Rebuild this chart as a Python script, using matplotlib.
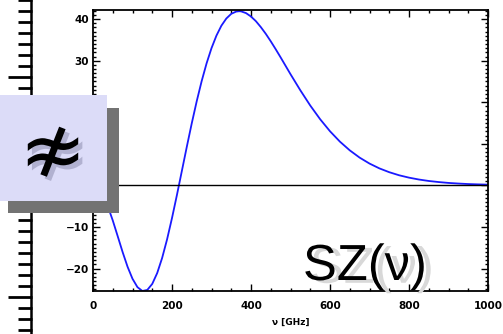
import numpy as np
import matplotlib
matplotlib.use("Agg")
import matplotlib.pyplot as plt
import matplotlib.patheffects as pe
from matplotlib.patches import Rectangle
from matplotlib.lines import Line2D

# SZ spectral distortion
freq = [0, 10, 25, 37.5, 50, 62.5, 75, 87.5, 100, 112.5, 125, 137.5, 150,
        162.5, 175, 187.5, 200, 212.5, 225, 237.5, 250, 262.5, 275, 287.5,
        300, 312.5, 325, 337.5, 350, 362.5, 370, 375, 387.5, 400, 412.5,
        425, 437.5, 450, 462.5, 475, 500, 525, 550, 575, 600, 625, 650, 675,
        700, 725, 750, 775, 800, 825, 850, 875, 900, 925, 950, 975, 1000]
sz = [0, -0.38, -2.32, -5.01, -8.42, -12.21, -16.04, -19.57, -22.46, -24.47,
      -25.40, -25.14, -23.69, -21.09, -17.46, -12.99, -7.85, -2.29, 3.50,
      9.30, 14.93, 20.22, 25.06, 29.35, 33.02, 36.04, 38.42, 40.15, 41.28,
      41.82, 41.91, 41.87, 41.45, 40.63, 39.50, 38.07, 36.46, 34.67, 32.77,
      30.80, 26.76, 22.87, 19.22, 15.93, 13.03, 10.54, 8.44, 6.69, 5.26,
      4.10, 3.18, 2.44, 1.87, 1.42, 1.07, 0.81, 0.60, 0.45, 0.33, 0.25, 0.18]
xticks = [0, 200, 400, 600, 800, 1000]
yticks = [-20, -10, 0, 10, 20, 30, 40]
# 20, 10 and 0 sit behind the box in the original
ylabels = ["\u221220", "\u221210", "", "", "", "30", "40"]

W, H = 503, 334
fig = plt.figure(figsize=(W / 100, H / 100), dpi=100)
ax = fig.add_axes([93 / W, 1 - 291 / H, (488 - 93) / W, (291 - 10) / H])

ax.plot(freq, sz, color="#1a1aff", lw=1.3)
ax.axhline(0, color="black", lw=1)
ax.set_xlim(0, 1000)
ax.set_ylim(-25.4, 42.2)
ax.set_xticks(xticks)
ax.set_yticks(yticks)
ax.set_yticklabels(ylabels)
ax.set_xticks(np.arange(0, 1001, 50), minor=True)
ax.set_yticks(np.arange(-25, 43, 1), minor=True)
ax.tick_params(which="both", direction="in", top=True, right=True, width=1)
ax.tick_params(which="major", length=5)
ax.tick_params(which="minor", length=2.5)
ax.tick_params(axis="x", pad=7)
ax.tick_params(axis="y", pad=3)
for lab in ax.get_xticklabels() + ax.get_yticklabels():
    lab.set_fontsize(7.5)
    lab.set_fontweight("bold")
for s in ax.spines.values():
    s.set_linewidth(1.3)
ax.set_xlabel("ν [GHz]", fontsize=6.5, fontweight="bold", labelpad=5)

# ruler on the left edge
def px(x, y):
    return x / W, 1 - y / H

fig.add_artist(Line2D([31.5 / W, 31.5 / W], [0, 1], color="black", lw=1.8, zorder=3))
for i in range(-7, 25):
    y = 77 + 11 * i
    x0 = 8 if i % 10 == 0 else 18
    (a, b), (c, d) = px(x0, y), px(32, y)
    fig.add_artist(Line2D([a, c], [b, d], color="black", lw=2, zorder=3,
                          solid_capstyle="butt"))

# box with shadow
fig.add_artist(Rectangle(px(8, 213), 111 / W, 105 / H, transform=fig.transFigure,
                         facecolor="#737373", edgecolor="none", zorder=5))
fig.add_artist(Rectangle(px(0, 201), 107 / W, 106 / H, transform=fig.transFigure,
                         facecolor="#dcdcf8", edgecolor="none", zorder=6))
fig.text(53 / W, 1 - 155 / H, "≉", fontsize=58, family="DejaVu Sans",
         ha="center", va="center", color="black", zorder=7,
         path_effects=[pe.withSimplePatchShadow(offset=(3, -3),
                                                shadow_rgbFace="#a0a0c0", alpha=0.7)])

fig.text(303 / W, 1 - 280 / H, "SZ(ν)", fontsize=36.5, family="Liberation Sans",
         ha="left", va="baseline", color="black", zorder=7,
         path_effects=[pe.withSimplePatchShadow(offset=(5, -2),
                                                shadow_rgbFace="#d8d8d8", alpha=1.0)])

fig.savefig("out.png", dpi=100)
